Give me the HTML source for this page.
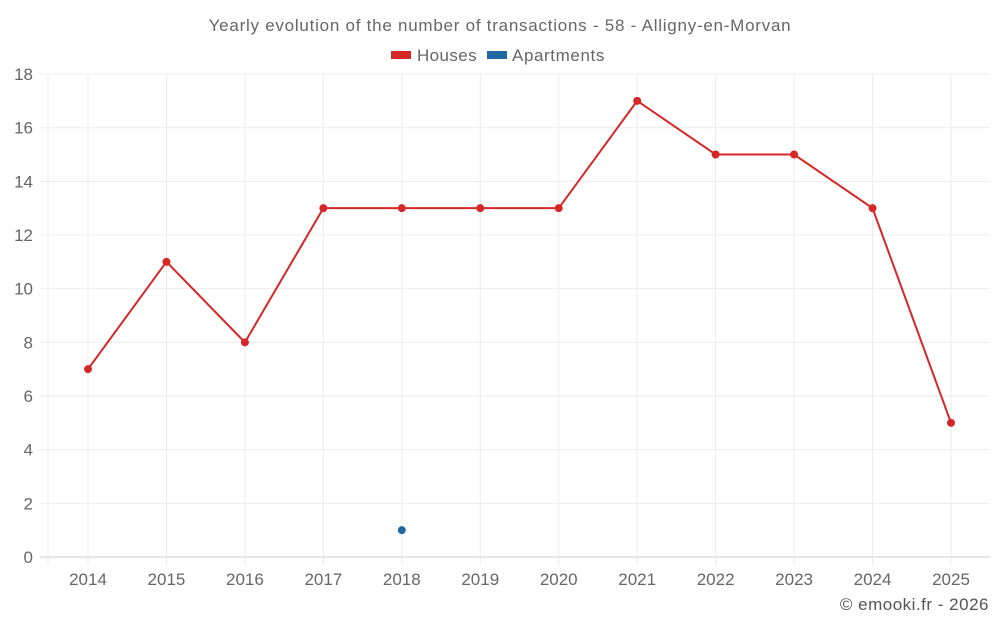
<!DOCTYPE html>
<html><head><meta charset="utf-8"><style>
body{margin:0;background:#fff;font-family:"Liberation Sans",sans-serif}
</style></head><body>
<svg id="c" width="1000" height="625" xmlns="http://www.w3.org/2000/svg" font-family="Liberation Sans, sans-serif">
<text x="500" y="31" text-anchor="middle" font-size="17" letter-spacing="0.75" fill="#666">Yearly evolution of the number of transactions - 58 - Alligny-en-Morvan</text>
<g><rect x="391" y="51" width="20" height="8" fill="#d62728"/><text x="417" y="61" font-size="17" letter-spacing="0.4" fill="#666">Houses</text></g>
<g><rect x="487" y="51" width="20" height="8" fill="#1f69a0"/><text x="512" y="61" font-size="17" letter-spacing="0.6" fill="#666">Apartments</text></g>
<text x="989" y="610" text-anchor="end" font-size="17" letter-spacing="0.5" fill="#555">© emooki.fr - 2026</text>
<g id="grid"></g><g id="marks"></g>
</svg>
<script>
const years=["2014","2015","2016","2017","2018","2019","2020","2021","2022","2023","2024","2025"];
const houses=[7,11,8,13,13,13,13,17,15,15,13,5];
const apartments=[null,null,null,null,1,null,null,null,null,null,null,null];
const yTicks=[0,2,4,6,8,10,12,14,16,18];
const NS="http://www.w3.org/2000/svg";
const X=i=>88+i*(951-88)/(years.length-1);
const Y=v=>557-v*(557-74)/18;
function mk(t,a,p){const e=document.createElementNS(NS,t);for(const k in a)e.setAttribute(k,a[k]);p.appendChild(e);return e;}
const g=document.getElementById('grid'),m=document.getElementById('marks');
yTicks.forEach(v=>{
const l=mk('line',{x1:40,x2:990,y1:Y(v),y2:Y(v),stroke:v==0?'#ccc':'#ebebeb'},g);


const t=mk('text',{x:33,y:Y(v)+6,'text-anchor':'end','font-size':17,fill:'#666'},g);t.textContent=v;


});
const ax=mk('line',{x1:48,x2:48,y1:74,y2:565,stroke:'#ebebeb'},g);


years.forEach((y,i)=>{
const l=mk('line',{x1:X(i),x2:X(i),y1:74,y2:565,stroke:'#ebebeb'},g);


const t=mk('text',{x:X(i),y:585,'text-anchor':'middle','font-size':17,fill:'#666'},g);t.textContent=y;


});
const pl=mk('polyline',{points:houses.map((v,i)=>X(i)+','+Y(v)).join(' '),fill:'none',stroke:'#d62728','stroke-width':2},m);


houses.forEach((v,i)=>{const c=mk('circle',{cx:X(i),cy:Y(v),r:4,fill:'#d62728'},m);

});
apartments.forEach((v,i)=>{if(v==null)return;const c=mk('circle',{cx:X(i),cy:Y(v),r:4,fill:'#1f69a0'},m);

});
</script>
</body></html>
